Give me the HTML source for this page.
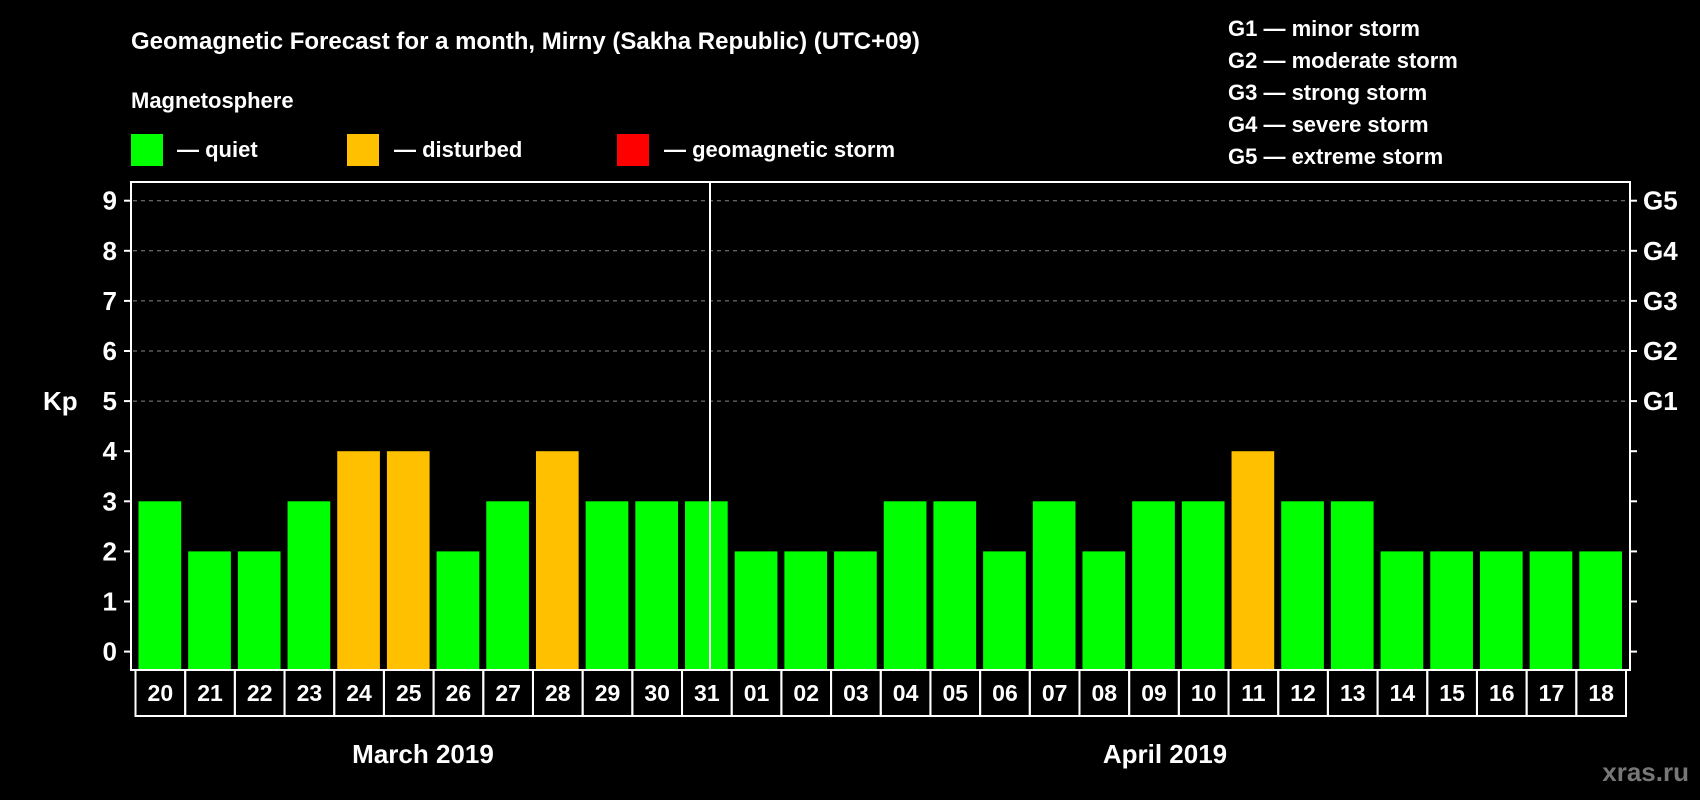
<!DOCTYPE html>
<html><head><meta charset="utf-8"><style>
html,body{margin:0;padding:0;background:#000;}
svg{display:block;font-family:"Liberation Sans",Arial,sans-serif;font-weight:bold;}
</style></head><body>
<svg id="chart" width="1700" height="800" viewBox="0 0 1700 800">
<text x="131" y="49" fill="#fff" font-size="24">Geomagnetic Forecast for a month, Mirny (Sakha Republic) (UTC+09)</text>
<text x="131" y="108" fill="#fff" font-size="22">Magnetosphere</text>
<g><rect x="131" y="134" width="32" height="32" fill="#00ff00"/><text x="177" y="157" fill="#fff" font-size="22">— quiet</text></g>
<g><rect x="347" y="134" width="32" height="32" fill="#ffc000"/><text x="394" y="157" fill="#fff" font-size="22">— disturbed</text></g>
<g><rect x="617" y="134" width="32" height="32" fill="#ff0000"/><text x="664" y="157" fill="#fff" font-size="22">— geomagnetic storm</text></g>
<g fill="#fff" font-size="22">
<text x="1228" y="36">G1 — minor storm</text>
<text x="1228" y="68">G2 — moderate storm</text>
<text x="1228" y="100">G3 — strong storm</text>
<text x="1228" y="132">G4 — severe storm</text>
<text x="1228" y="164">G5 — extreme storm</text>
</g>
<text x="43" y="410" fill="#fff" font-size="26">Kp</text>
<g id="grid"></g><g id="bars"></g><g id="xaxis"></g>
<rect x="131" y="182" width="1499" height="488" fill="none" stroke="#fff" stroke-width="2"/>
<line x1="710" y1="182" x2="710" y2="670" stroke="#fff" stroke-width="2"/>
<text x="423" y="763" fill="#fff" font-size="26" text-anchor="middle">March 2019</text>
<text x="1165" y="763" fill="#fff" font-size="26" text-anchor="middle">April 2019</text>
<text x="1689" y="781" fill="#777" font-size="26" text-anchor="end">xras.ru</text>
</svg>
<script>
const days = ["20","21","22","23","24","25","26","27","28","29","30","31","01","02","03","04","05","06","07","08","09","10","11","12","13","14","15","16","17","18","19"];
const kp = [3,2,2,3,4,4,2,3,4,3,3,3,2,2,2,3,3,2,3,2,3,3,4,3,3,2,2,2,2,2,2];
const yTicks = [0,1,2,3,4,5,6,7,8,9];
const gLabels = ["G1","G2","G3","G4","G5"];
const NS="http://www.w3.org/2000/svg";
const n = days.length - 1; // 30 slots shown
const x0=135.5, slot=(1626-135.5)/30;
function y(v){return 651.6 - v*50.1;}
function mk(t,a,p){const e=document.createElementNS(NS,t);for(const k in a)e.setAttribute(k,a[k]);p.appendChild(e);return e;}
const grid=document.getElementById('grid'),bars=document.getElementById('bars'),xa=document.getElementById('xaxis');
yTicks.forEach(v=>{
  const yy=y(v);
  const l=mk('line',{x1:124,x2:131,y1:yy,y2:yy,stroke:'#fff','stroke-width':2},grid);
  
  
  const r=mk('line',{x1:1630,x2:1637,y1:yy,y2:yy,stroke:'#fff','stroke-width':2},grid);
  
  
  const t=mk('text',{x:117,y:yy+9,fill:'#fff','font-size':26,'text-anchor':'end'},grid);
  t.textContent=v;
  
  
  if(v>=5){
    const g=mk('line',{x1:133,x2:1628,y1:yy,y2:yy,stroke:'#888','stroke-width':1,'stroke-dasharray':'4,4'},grid);
    
    
    const gl=mk('text',{x:1643,y:yy+9,fill:'#fff','font-size':26},grid);
    gl.textContent=gLabels[v-5];
    
    
  }
});
for(let i=0;i<Math.min(30,kp.length);i++){
  const v=kp[i];
  const col=v>=5?'#ff0000':(v>=4?'#ffc000':'#00ff00');
  const bx=x0+i*slot+3;
  const b=mk('rect',{x:bx,y:y(v),width:slot-7,height:669-y(v),fill:col},bars);
  
  
  const c=mk('rect',{x:x0+i*slot,y:670,width:slot,height:46,fill:'none',stroke:'#fff','stroke-width':2},xa);
  
  
  const t=mk('text',{x:x0+i*slot+slot/2,y:701,fill:'#fff','font-size':23,'text-anchor':'middle'},xa);
  t.textContent=days[i];
  
  
}
</script>
</body></html>
